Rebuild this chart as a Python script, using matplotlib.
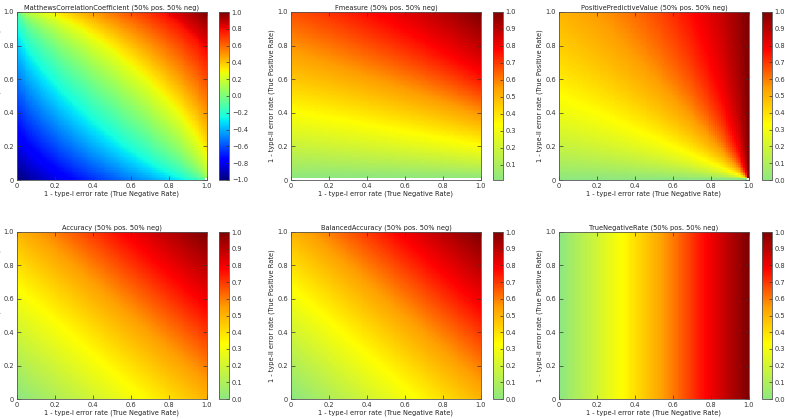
import numpy as np
import matplotlib
matplotlib.use("Agg")
import matplotlib.pyplot as plt
from matplotlib.colors import LinearSegmentedColormap
from matplotlib.ticker import FuncFormatter, MultipleLocator

# grid of rates (x: true negative rate, y: true positive rate)
tnr_values = np.linspace(0.0, 1.0, 101)
tpr_values = np.linspace(0.0, 1.0, 101)
pos_share = 0.5
neg_share = 0.5

titles = [
    "MatthewsCorrelationCoefficient (50% pos. 50% neg)",
    "Fmeasure (50% pos. 50% neg)",
    "PositivePredictiveValue (50% pos. 50% neg)",
    "Accuracy (50% pos. 50% neg)",
    "BalancedAccuracy (50% pos. 50% neg)",
    "TrueNegativeRate (50% pos. 50% neg)",
]
xlabel_text = "1 - type-I error rate (True Negative Rate)"
ylabel_text = "1 - type-II error rate (True Positive Rate)"

X, Y = np.meshgrid(tnr_values, tpr_values)
TP = pos_share * Y
FN = pos_share * (1 - Y)
TN = neg_share * X
FP = neg_share * (1 - X)

with np.errstate(divide="ignore", invalid="ignore"):
    mcc = (TP * TN - FP * FN) / np.sqrt((TP + FP) * (TP + FN) * (TN + FP) * (TN + FN))
    ppv = TP / (TP + FP)
    rec = TP / (TP + FN)
    fm = 2 * ppv * rec / (ppv + rec)
    acc = (TP + TN) / (TP + TN + FP + FN)
    bacc = 0.5 * (TP / (TP + FN) + TN / (TN + FP))
    tnr = TN / (TN + FP)

metrics = [mcc, fm, ppv, acc, bacc, tnr]

cmap_metric = LinearSegmentedColormap.from_list(
    "gyr",
    [(0.0, (0.56, 0.91, 0.50)), (0.33, (1.0, 1.0, 0.0)), (0.55, (1.0, 0.62, 0.0)),
     (0.78, (1.0, 0.0, 0.0)), (1.0, (0.50, 0.0, 0.0))])
cmaps = ["jet", cmap_metric, cmap_metric, cmap_metric, cmap_metric, cmap_metric]

W, H = 785, 419
fig = plt.figure(figsize=(W / 100, H / 100), dpi=100, facecolor="white")

col_x = [17, 291, 559]
cb_x = [219, 493, 762]
row_y = [(12, 180), (232, 399)]
ax_w = 190
cb_w = 10
fs = 4.8

def fmt(v, pos):
    if abs(v) < 1e-9:
        return "0"
    return f"{v:.1f}"

def cbfmt(v, pos):
    if abs(v) < 1e-9:
        v = 0.0
    return f"{v:.1f}".replace("-", "\u2212")

for i, (data, title, cmap) in enumerate(zip(metrics, titles, cmaps)):
    r, c = divmod(i, 3)
    top, bot = row_y[r]
    ax = fig.add_axes([col_x[c] / W, 1 - bot / H, ax_w / W, (bot - top) / H])
    if cmap == "jet":
        vmin, vmax = -1.0, 1.0
    else:
        vmin, vmax = np.nanmin(data), np.nanmax(data)
    im = ax.imshow(data, origin="lower", extent=[0, 1, 0, 1], aspect="auto",
                   cmap=cmap, vmin=vmin, vmax=vmax, interpolation="nearest")
    ax.set_xlim(0, 1)
    ax.set_ylim(0, 1)
    ax.xaxis.set_major_locator(MultipleLocator(0.2))
    ax.yaxis.set_major_locator(MultipleLocator(0.2))
    ax.xaxis.set_major_formatter(FuncFormatter(fmt))
    ax.yaxis.set_major_formatter(FuncFormatter(fmt))
    ax.tick_params(direction="in", length=3, width=0.5, labelsize=fs, pad=2,
                   top=True, right=True, colors="#333333")
    for s in ax.spines.values():
        s.set_color("#555555")
        s.set_linewidth(0.6)
    ax.set_title(title, fontsize=fs, pad=2, color="#222222")
    ax.set_xlabel(xlabel_text, fontsize=fs, labelpad=1, color="#222222")
    ax.set_ylabel(ylabel_text, fontsize=fs, labelpad=2, color="#222222")

    cax = fig.add_axes([cb_x[c] / W, 1 - bot / H, cb_w / W, (bot - top) / H])
    cb = fig.colorbar(im, cax=cax)
    if cmap == "jet":
        cb.set_ticks(np.arange(-1.0, 1.01, 0.2))
    else:
        cb.set_ticks([t for t in np.arange(0.0, 1.01, 0.1) if vmin - 1e-9 <= t <= vmax + 1e-9])
    cb.ax.yaxis.set_major_formatter(FuncFormatter(cbfmt))
    cb.ax.tick_params(direction="in", length=2, width=0.5, labelsize=fs, pad=2,
                      colors="#333333")
    cb.outline.set_edgecolor("#555555")
    cb.outline.set_linewidth(0.6)

fig.savefig("out.png", dpi=100, facecolor="white")
